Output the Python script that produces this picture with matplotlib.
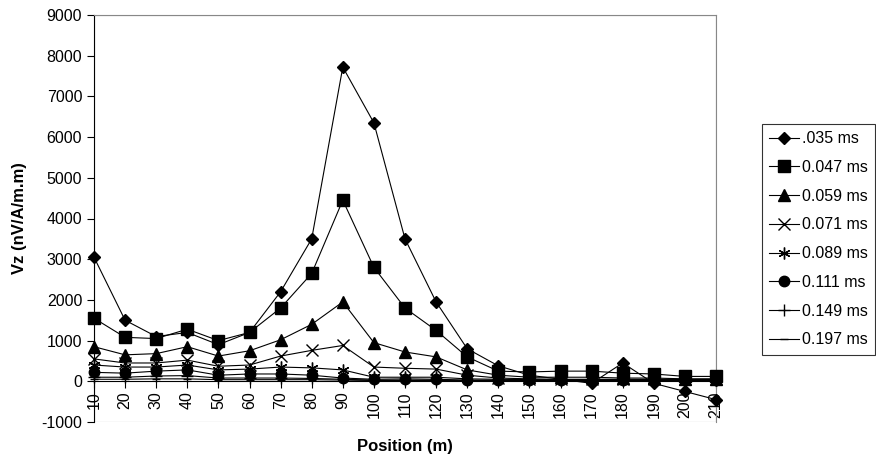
import matplotlib
matplotlib.use("Agg")
import matplotlib.pyplot as plt
from matplotlib.patches import Rectangle

plt.rcParams['font.family'] = ['Liberation Sans', 'DejaVu Sans']
plt.rcParams['axes.unicode_minus'] = False

positions = [10, 20, 30, 40, 50, 60, 70, 80, 90, 100, 110, 120, 130, 140, 150, 160, 170, 180, 190, 200, 210]

s035 = [3050, 1500, 1100, 1200, 900, 1200, 2200, 3500, 7720, 6350, 3500, 1950, 800, 380, 150, 50, -50, 450, -50, -250, -450]
s047 = [1550, 1080, 1050, 1280, 1000, 1200, 1800, 2650, 4450, 2800, 1800, 1250, 600, 250, 230, 250, 250, 200, 180, 120, 120]
s059 = [850, 650, 680, 850, 620, 750, 1020, 1400, 1950, 950, 720, 600, 280, 150, 100, 100, 100, 80, 80, 60, 60]
s071 = [550, 450, 450, 520, 370, 400, 620, 760, 880, 350, 320, 300, 150, 80, 60, 50, 50, 50, 50, 50, 50]
s089 = [400, 350, 350, 400, 280, 300, 350, 330, 280, 100, 100, 100, 60, 50, 40, 40, 40, 40, 40, 40, 40]
s111 = [220, 200, 250, 280, 150, 180, 180, 150, 80, 50, 60, 50, 30, 30, 30, 30, 30, 30, 30, 30, 30]
s149 = [100, 100, 130, 140, 80, 80, 80, 70, 50, 30, 30, 30, 20, 20, 20, 20, 20, 20, 20, 20, 20]
s197 = [50, 50, 60, 60, 40, 40, 40, 40, 30, 20, 20, 20, 10, 10, 10, 10, 10, 10, 10, 10, 10]

labels = ['.035 ms', '0.047 ms', '0.059 ms', '0.071 ms', '0.089 ms', '0.111 ms', '0.149 ms', '0.197 ms']
series = [s035, s047, s059, s071, s089, s111, s149, s197]
markers = ['D', 's', '^', 'x', (6, 2, 0), 'o', '+', '_']
msizes = [6.5, 8, 8, 8.5, 8.5, 7.5, 8.5, 6]

fig = plt.figure(figsize=(8.76, 4.68), dpi=100)
ax = fig.add_axes([94/876, 46/468, 622/876, 407/468])

for vals, lab, m, ms in zip(series, labels, markers, msizes):
    ax.plot(positions, vals, color='black', lw=0.8, marker=m, markersize=ms,
            markeredgewidth=1.0, markerfacecolor='black', markeredgecolor='black',
            label=lab, zorder=3, clip_on=False)

ax.set_xlim(10, 210)
ax.set_ylim(-1000, 9000)
ax.set_yticks(range(-1000, 9001, 1000))
ax.set_xticks(positions)
ax.set_xticklabels([str(p) for p in positions])

ax.spines['bottom'].set_position(('data', 0))
ax.spines['top'].set_color('#888888')
ax.spines['right'].set_color('#888888')
ax.spines['left'].set_color('black')
ax.spines['bottom'].set_color('black')
for s in ax.spines.values():
    s.set_linewidth(0.8)
ax.add_patch(Rectangle((0, 0), 1, 1, transform=ax.transAxes, fill=False,
                       edgecolor='#888888', lw=0.8, zorder=0))

ax.tick_params(axis='both', direction='out', length=5, width=0.8, labelsize=11.5, color='black')
ax.tick_params(axis='x', pad=2, labelrotation=90)
for t in ax.get_xticklabels():
    t.set_va('top')

fig.text(405/876, 1 - 447/468, 'Position (m)', fontsize=12, fontweight='bold', ha='center', va='center')
fig.text(20/876, 1 - 218/468, 'Vz (nV/A/m.m)', fontsize=12, fontweight='bold', ha='center', va='center', rotation=90)

leg = ax.legend(loc='upper left', bbox_to_anchor=(762/876, (468-124)/468), bbox_transform=fig.transFigure,
                frameon=True, fancybox=False, edgecolor='black', fontsize=11.5,
                handlelength=1.85, handletextpad=0.2, labelspacing=0.86, borderpad=0.45,
                borderaxespad=0)
leg.get_frame().set_linewidth(0.8)

fig.savefig('out.png', dpi=100)
